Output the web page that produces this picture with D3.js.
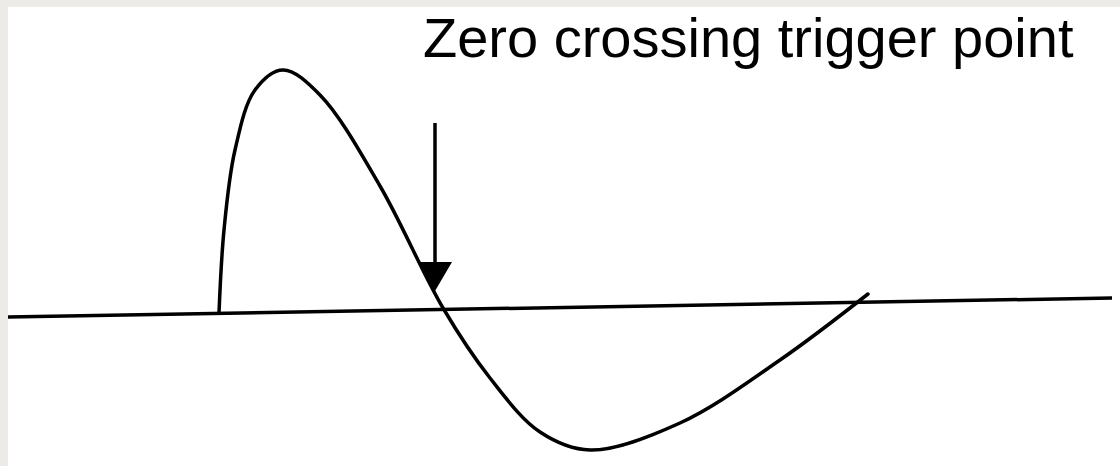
<!DOCTYPE html>
<html lang="en">
<head>
    <meta charset="UTF-8">
    <title>Zero crossing trigger</title>
    <script src="https://d3js.org/d3.v7.min.js"></script>
    <style type="text/css">
        body {margin: 0; background: #ffffff;}
        svg {display: block;}
    </style>
</head>
<body>
    <!--Chart goes here-->
    <div id="chart"></div>

<script>

// Waveform samples (time, level)
var waveT = [21.1, 21.6, 22.7, 24.7, 27.5, 31.2, 37.2, 43.5, 48.2, 53.2, 58.2, 67.2, 77.2, 86.0];
var waveV = [-0.3, 8.0, 16.0, 22.0, 24.0, 21.5, 12.4, 0.2, -6.8, -12.2, -14.0, -11.3, -5.0, 1.6];

// Zero line (slightly tilted in the picture)
var baseT = [0, 110.4];
var baseV = [-0.7, 1.2];

// Trigger arrow
var arrowT = 42.7;
var arrowTopV = 18.7;
var arrowHeadV = 4.8;
var arrowTipV = 1.9;
var arrowHalfWidth = 1.7;

var label = "Zero crossing trigger point";

var width = 1120;
var height = 466;

// Scales
var xScale = d3.scaleLinear()
    .domain([0, 110])
    .range([8, 1108]);

var yScale = d3.scaleLinear()
    .domain([-15, 30])
    .range([460, 10]);

var svg = d3.select("#chart").append("svg")
    .attr("width", width)
    .attr("height", height);

// White panel with grey frame on top and left
svg.append("rect")
    .attr("width", width).attr("height", height)
    .attr("fill", "#ffffff");
svg.append("rect")
    .attr("width", width).attr("height", 7)
    .attr("fill", "#ecebe7");
svg.append("rect")
    .attr("width", 8).attr("height", height)
    .attr("fill", "#ecebe7");

// Zero line
var baseData = baseT.map(function(t, i){ return [t, baseV[i]]; });
svg.append("path")
    .datum(baseData)
    .attr("fill", "none")
    .attr("stroke", "#000")
    .attr("stroke-width", 3.5)
    .attr("d", d3.line()
        .x(function(d){ return xScale(d[0]); })
        .y(function(d){ return yScale(d[1]); }));

// Waveform
var waveData = waveT.map(function(t, i){ return [t, waveV[i]]; });
svg.append("path")
    .datum(waveData)
    .attr("fill", "none")
    .attr("stroke", "#000")
    .attr("stroke-width", 3.5)
    .attr("stroke-linecap", "round")
    .attr("stroke-linejoin", "round")
    .attr("d", d3.line()
        .curve(d3.curveCatmullRom.alpha(0.5))
        .x(function(d){ return xScale(d[0]); })
        .y(function(d){ return yScale(d[1]); }));

// Arrow shaft
svg.append("line")
    .attr("x1", xScale(arrowT)).attr("x2", xScale(arrowT))
    .attr("y1", yScale(arrowTopV)).attr("y2", yScale(arrowHeadV) + 2)
    .attr("stroke", "#000")
    .attr("stroke-width", 3.5);

// Arrow head
var head = [
    [arrowT - arrowHalfWidth, arrowHeadV],
    [arrowT + arrowHalfWidth, arrowHeadV],
    [arrowT, arrowTipV]
];
svg.append("path")
    .attr("d", "M" + head.map(function(p){ return xScale(p[0]) + "," + yScale(p[1]); }).join("L") + "Z")
    .attr("fill", "#000");

// Label
svg.append("text")
    .attr("x", 423)
    .attr("y", 57)
    .attr("font-family", "'Liberation Sans', Arial, sans-serif")
    .attr("font-size", "56px")
    .attr("fill", "#000")
    .text(label);

</script>
</body>
</html>
